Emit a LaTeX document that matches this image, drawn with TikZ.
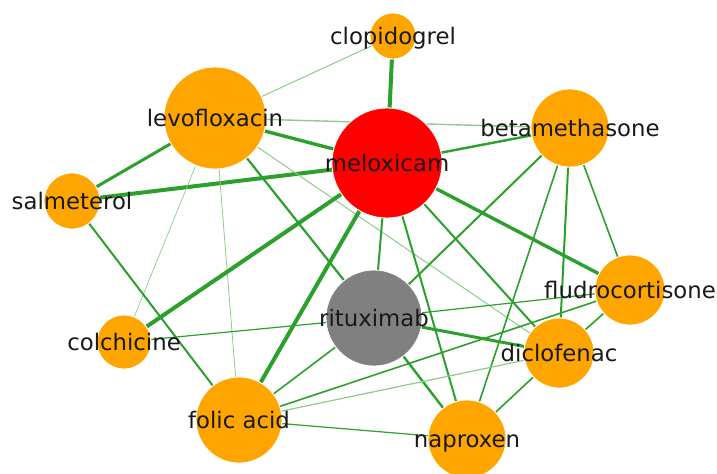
\documentclass[tikz,border=0pt]{standalone}
\usepackage{fontspec}
\setmainfont{DejaVu Sans}
\usepackage{tikz}
\usetikzlibrary{backgrounds}

\definecolor{edgegreen}{RGB}{44,160,44}
\definecolor{drugorange}{RGB}{255,165,0}
\definecolor{focusred}{RGB}{255,0,0}
\definecolor{targetgray}{RGB}{128,128,128}

\begin{document}
\begin{tikzpicture}[x=0.5pt, y=-0.5pt,
  drug/.style={circle, fill=drugorange, draw=white, line width=0.4pt,
    minimum size=#1, inner sep=0pt},
  tag/.style={font=\fontsize{11.4}{14}\selectfont, text=black!90, inner sep=0pt,
    anchor=base, yshift=-4.3pt},
  link/.style={draw=edgegreen, line width=#1},
  faint/.style={draw=edgegreen!55, line width=#1},
]
  \useasboundingbox (0,0) rectangle (717,473);

  % Drugs
  \node[drug=23pt] (clopi) at (393,36) {};
  \node[drug=51pt] (levo) at (215,118) {};
  \node[drug=55pt, fill=focusred] (melox) at (387,163) {};
  \node[drug=39pt] (beta) at (570,128) {};
  \node[drug=28pt] (salm) at (72,201) {};
  \node[drug=35pt] (fludro) at (630,290) {};
  \node[drug=48pt, fill=targetgray] (ritux) at (374,318) {};
  \node[drug=27pt] (colch) at (124,342) {};
  \node[drug=35pt] (diclo) at (559,353) {};
  \node[drug=43pt] (folic) at (239,420) {};
  \node[drug=39pt] (napro) at (467,439) {};

  % Labels
  \node[tag] (t-clopi) at (clopi) {clopidogrel};
  \node[tag] (t-levo) at (levo) {levofloxacin};
  \node[tag] (t-melox) at (melox) {meloxicam};
  \node[tag] (t-beta) at (beta) {betamethasone};
  \node[tag] (t-salm) at (salm) {salmeterol};
  \node[tag] (t-fludro) at (fludro) {fludrocortisone};
  \node[tag] (t-ritux) at (ritux) {rituximab};
  \node[tag] (t-colch) at (colch) {colchicine};
  \node[tag] (t-diclo) at (diclo) {diclofenac};
  \node[tag] (t-folic) at (folic) {folic acid};
  \node[tag] (t-napro) at (napro) {naproxen};

  % Interactions
  \begin{scope}[on background layer]
    \draw[link=2pt] (clopi) -- (melox);
    \draw[faint=0.5pt] (clopi) -- (levo);
    \draw[link=1.7pt] (levo) -- (melox);
    \draw[faint=0.7pt] (levo) -- (beta);
    \draw[link=1.5pt] (levo) -- (salm);
    \draw[link=2pt] (salm) -- (melox);
    \draw[faint=0.35pt] (levo) -- (colch);
    \draw[faint=0.4pt] (levo) -- (folic);
    \draw[link=1.1pt] (levo) -- (ritux);
    \draw[faint=0.5pt] (levo) -- (diclo);
    \draw[link=1pt] (salm) -- (folic);
    \draw[link=2pt] (melox) -- (colch);
    \draw[link=2pt] (melox) -- (folic);
    \draw[link=1pt] (melox) -- (ritux);
    \draw[link=1.2pt] (melox) -- (beta);
    \draw[link=1.7pt] (melox) -- (fludro);
    \draw[link=1pt] (melox) -- (napro);
    \draw[link=1pt] (melox) -- (diclo);
    \draw[link=1pt] (beta) -- (ritux);
    \draw[link=0.8pt] (beta) -- (napro);
    \draw[link=1pt] (beta) -- (diclo);
    \draw[link=0.8pt] (beta) -- (fludro);
    \draw[link=0.6pt] (ritux) -- (fludro);
    \draw[link=1.5pt] (ritux) -- (diclo);
    \draw[link=1.2pt] (ritux) -- (napro);
    \draw[link=0.6pt] (ritux) -- (colch);
    \draw[link=0.8pt] (ritux) -- (folic);
    \draw[link=0.8pt] (folic) -- (fludro);
    \draw[faint=0.6pt] (folic) -- (diclo);
    \draw[link=0.6pt] (folic) -- (napro);
    \draw[link=0.8pt] (diclo) -- (fludro);
    \draw[link=0.8pt] (diclo) -- (napro);
  \end{scope}
\end{tikzpicture}
\end{document}
